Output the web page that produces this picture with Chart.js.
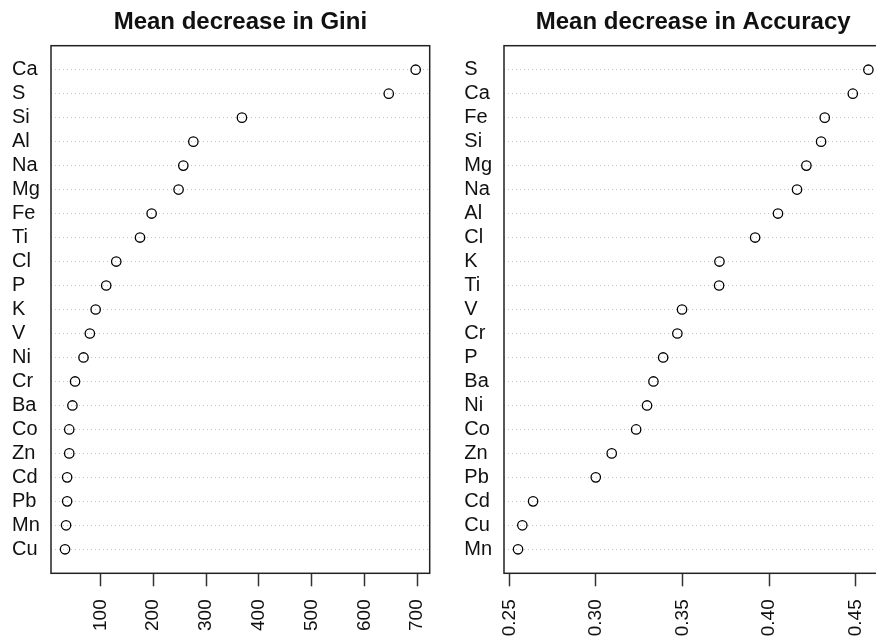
<!DOCTYPE html>
<html>
<head>
<meta charset="utf-8">
<script src="https://cdn.jsdelivr.net/npm/chart.js@4"></script>
<style>
    html, body { margin: 0; padding: 0; background: #fff; overflow: hidden; width: 876px; height: 637px; position: relative; }
    canvas { position: absolute; top: 0; }
    #giniChart { left: 0; }
    #accChart { left: 440px; }
</style>
</head>
<body>
<canvas id="giniChart" width="440" height="637"></canvas>
<canvas id="accChart" width="450" height="637"></canvas>
<script>
// Variable importance, top row first
const giniLabels = ["Ca", "S", "Si", "Al", "Na", "Mg", "Fe", "Ti", "Cl", "P", "K",
                    "V", "Ni", "Cr", "Ba", "Co", "Zn", "Cd", "Pb", "Mn", "Cu"];
const giniValues = [697, 646, 368, 276, 257, 248, 197, 175, 130, 111, 91,
                    80, 68, 52, 47, 41, 41, 37, 37, 35, 33];
const giniTicks = [100, 200, 300, 400, 500, 600, 700];

const accLabels = ["S", "Ca", "Fe", "Si", "Mg", "Na", "Al", "Cl", "K", "Ti", "V",
                   "Cr", "P", "Ba", "Ni", "Co", "Zn", "Pb", "Cd", "Cu", "Mn"];
const accValues = [0.4573, 0.4483, 0.4321, 0.4300, 0.4215, 0.4161, 0.4051, 0.3919, 0.3713, 0.3711, 0.3497,
                   0.3470, 0.3388, 0.3332, 0.3295, 0.3232, 0.3091, 0.2999, 0.2637, 0.2575, 0.2550];
const accTicks = [0.25, 0.30, 0.35, 0.40, 0.45];

const FONT = "'Liberation Sans', Arial, Helvetica, sans-serif";
const INK = "#111";

// box around the plot region, like R's box()
const framePlugin = {
    id: "frame",
    afterDraw(chart) {
        const { ctx, chartArea: a } = chart;
        ctx.save();
        ctx.strokeStyle = "#222";
        ctx.lineWidth = 1.5;
        ctx.strokeRect(a.left, a.top, a.right - a.left, a.bottom - a.top);
        ctx.restore();
    }
};

// keep the plot region where we put it (no extra room for rotated labels)
function noScalePadding(s) {
    s.paddingLeft = 0;
    s.paddingRight = 0;
    s.paddingTop = 0;
    s.paddingBottom = 0;
}

function makeDotChart(canvasId, cfg) {
    const n = cfg.labels.length;
    const lo = Math.min(...cfg.values);
    const hi = Math.max(...cfg.values);
    const ext = (hi - lo) * 0.04;

    return new Chart(document.getElementById(canvasId), {
        type: "scatter",
        data: {
            datasets: [{
                data: cfg.values.map((v, i) => ({ x: v, y: n - i })),
                pointStyle: "circle",
                pointRadius: 4.7,
                pointHoverRadius: 4.7,
                pointBorderWidth: 1.3,
                pointBorderColor: "#000",
                pointBackgroundColor: "rgba(0,0,0,0)",
            }]
        },
        options: {
            responsive: false,
            animation: false,
            events: [],
            layout: { padding: { left: cfg.padLeft, right: cfg.padRight, top: 0, bottom: 0 } },
            plugins: {
                legend: { display: false },
                tooltip: { enabled: false },
                title: {
                    display: true,
                    text: cfg.title,
                    fullSize: false,
                    color: INK,
                    font: { family: FONT, size: 24, weight: "bold" },
                    padding: { top: 7.6, bottom: 9.3 },
                }
            },
            scales: {
                x: {
                    type: "linear",
                    position: "bottom",
                    min: lo - ext,
                    max: hi + ext,
                    afterBuildTicks: (s) => { s.ticks = cfg.ticks.map(v => ({ value: v })); },
                    afterFit: (s) => { s.height = 63.7; noScalePadding(s); },
                    ticks: {
                        autoSkip: false,
                        minRotation: 90,
                        maxRotation: 90,
                        padding: 13,
                        color: INK,
                        font: { family: FONT, size: 19 },
                        callback: cfg.tickFormat,
                    },
                    grid: {
                        drawOnChartArea: false,
                        drawTicks: true,
                        tickLength: 13,
                        tickColor: "#333",
                        tickWidth: 1.5,
                    },
                    border: { display: false },
                },
                y: {
                    type: "linear",
                    min: 0,
                    max: n + 1,
                    afterBuildTicks: (s) => { s.ticks = cfg.labels.map((_, i) => ({ value: n - i })); },
                    afterFit: (s) => { s.width = cfg.axisWidth; noScalePadding(s); },
                    ticks: {
                        autoSkip: false,
                        crossAlign: "far",
                        padding: 0,
                        color: INK,
                        font: { family: FONT, size: 20 },
                        callback: (v) => cfg.labels[n - v],
                    },
                    grid: {
                        drawTicks: false,
                        color: "#c4c4c4",
                        lineWidth: 1,
                    },
                    border: { display: false, dash: [1, 3] },
                }
            }
        },
        plugins: [framePlugin]
    });
}

makeDotChart("giniChart", {
    title: "Mean decrease in Gini",
    labels: giniLabels,
    values: giniValues,
    ticks: giniTicks,
    tickFormat: (v) => String(v),
    padLeft: 12,
    axisWidth: 39,
    padRight: 10.3,
});

makeDotChart("accChart", {
    title: "Mean decrease in Accuracy",
    labels: accLabels,
    values: accValues,
    ticks: accTicks,
    tickFormat: (v) => v.toFixed(2),
    padLeft: 24.3,
    axisWidth: 39.7,
    padRight: 7.6,
});
</script>
</body>
</html>
